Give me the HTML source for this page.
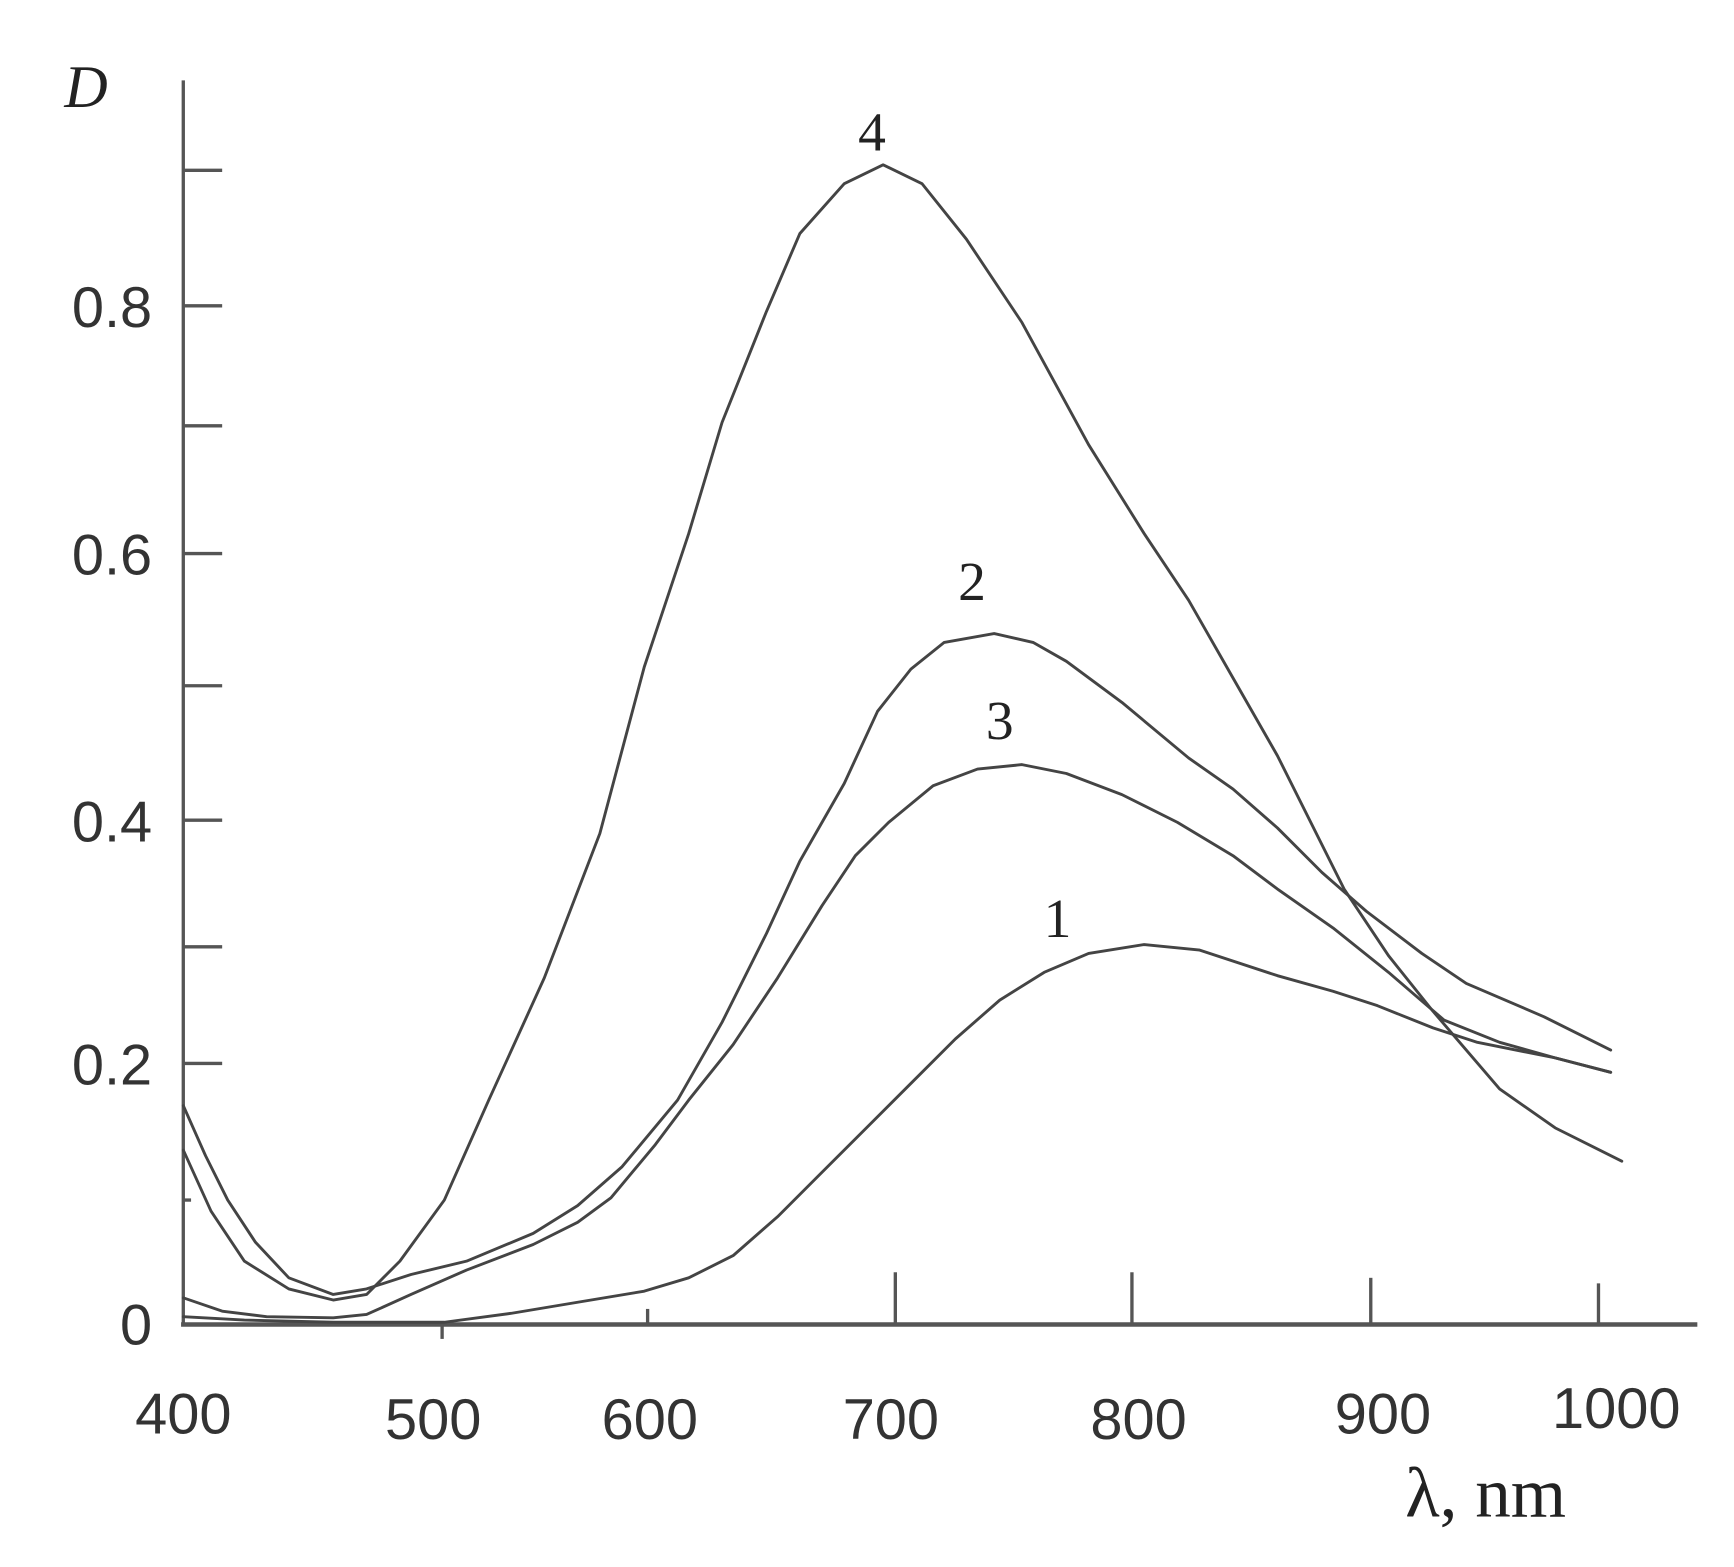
<!DOCTYPE html>
<html><head><style>html,body{margin:0;padding:0;background:#fff}svg{display:block}</style></head>
<body>
<svg width="1734" height="1567" viewBox="0 0 1561 1410" xmlns="http://www.w3.org/2000/svg">
<g stroke="#555" stroke-width="3" fill="none">
<line x1="165" y1="72" x2="165" y2="1193"/>
<line x1="163" y1="1192" x2="1528" y2="1192" stroke-width="4"/>
<line x1="165" y1="153" x2="200" y2="153"/>
<line x1="165" y1="275" x2="200" y2="275"/>
<line x1="165" y1="383" x2="200" y2="383"/>
<line x1="165" y1="498" x2="200" y2="498"/>
<line x1="165" y1="617" x2="200" y2="617"/>
<line x1="165" y1="738" x2="200" y2="738"/>
<line x1="165" y1="852" x2="200" y2="852"/>
<line x1="165" y1="957" x2="200" y2="957"/>
<line x1="165" y1="1080" x2="172" y2="1080"/>
<line x1="806" y1="1145" x2="806" y2="1192"/>
<line x1="1019" y1="1145" x2="1019" y2="1192"/>
<line x1="1234" y1="1150" x2="1234" y2="1192"/>
<line x1="1439" y1="1155" x2="1439" y2="1192"/>
<line x1="583" y1="1178" x2="583" y2="1192"/>
<line x1="398" y1="1192" x2="398" y2="1205"/>
</g>
<g stroke="#444" stroke-width="2.6" fill="none" stroke-linejoin="round" stroke-linecap="round">
<polyline points="165,1035 190,1090 220,1135 260,1160 300,1170 330,1165 360,1135 400,1080 440,990 490,880 540,750 580,600 620,480 650,380 690,280 720,210 760,165 795,148 830,165 870,215 920,290 980,400 1030,480 1070,540 1110,610 1150,680 1210,800 1250,860 1290,910 1350,980 1400,1015 1460,1045"/>
<polyline points="165,995 185,1040 205,1080 230,1118 260,1150 300,1165 330,1160 370,1147 420,1135 480,1110 520,1085 560,1050 610,990 650,920 690,840 720,775 760,705 790,640 820,602 850,578 895,570 930,578 960,595 1010,632 1070,682 1110,710 1150,745 1190,785 1230,820 1280,858 1320,885 1390,915 1450,945"/>
<polyline points="165,1168 200,1180 240,1185 300,1186 330,1183 370,1165 420,1143 480,1120 520,1100 550,1078 590,1030 620,990 660,940 700,880 740,815 770,770 800,740 840,707 880,692 920,688 960,696 1010,715 1060,740 1110,770 1150,800 1200,835 1250,875 1300,918 1350,938 1400,952 1450,965"/>
<polyline points="165,1185 220,1188 300,1190 400,1190 460,1182 520,1172 580,1162 620,1150 660,1130 700,1095 740,1055 780,1015 820,975 860,935 900,900 940,875 980,858 1030,850 1080,855 1150,878 1200,892 1240,905 1290,925 1330,938 1400,952 1450,965"/>
</g>
<g font-family="Liberation Sans, sans-serif" font-size="52" fill="#333" text-anchor="end">
<text x="137" y="294">0.8</text>
<text x="137" y="517">0.6</text>
<text x="137" y="757">0.4</text>
<text x="137" y="976">0.2</text>
<text x="137" y="1210">0</text>
</g>
<g font-family="Liberation Sans, sans-serif" font-size="52" fill="#333" text-anchor="middle">
<text x="165" y="1290">400</text>
<text x="390" y="1295">500</text>
<text x="585" y="1295">600</text>
<text x="802" y="1295">700</text>
<text x="1025" y="1295">800</text>
<text x="1245" y="1290">900</text>
<text x="1455" y="1285">1000</text>
</g>
<g font-family="Liberation Serif, serif" fill="#222">
<text x="1265" y="1365" font-size="64">λ, nm</text>
<text x="58" y="96" font-size="54" font-style="italic">D</text>
<text x="785" y="135" font-size="50" text-anchor="middle">4</text>
<text x="875" y="540" font-size="50" text-anchor="middle">2</text>
<text x="900" y="665" font-size="50" text-anchor="middle">3</text>
<text x="952" y="843" font-size="50" text-anchor="middle">1</text>
</g>
</svg>
</body></html>
